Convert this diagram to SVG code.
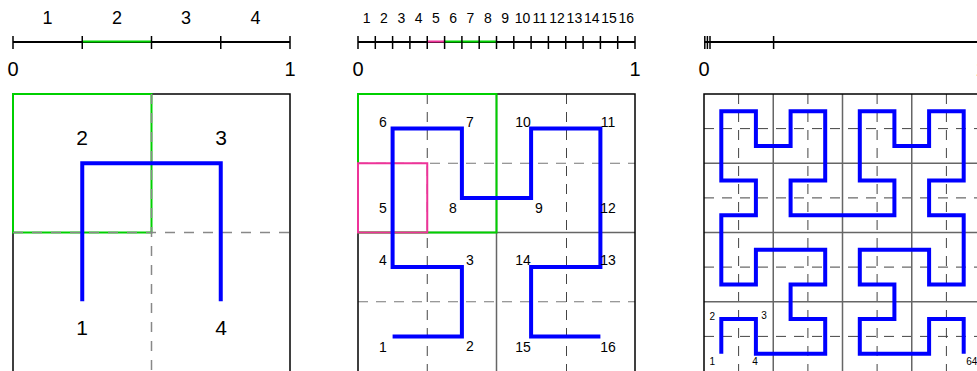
<svg xmlns="http://www.w3.org/2000/svg" width="977" height="371" viewBox="0 0 977 371">
<style>
text{font-family:"Liberation Sans",Arial,sans-serif;fill:#000;text-anchor:middle}
.axis{stroke:#000;stroke-width:2;fill:none}
.tick{stroke:#000;stroke-width:1.5}
.border{fill:none;stroke:#000;stroke-width:1.5}
.solid{stroke:#666;stroke-width:1.5}
.dash1{stroke:#888;stroke-width:1.5;stroke-dasharray:10,9}
.dash{stroke:#444;stroke-width:1;stroke-dasharray:10,8}
.green{fill:none;stroke:#00d000;stroke-width:2}
.pink{fill:none;stroke:#ee3399;stroke-width:2}
.curve{fill:none;stroke:#0000ff;stroke-width:4;stroke-linejoin:miter}
.big{font-size:21px}
.ax{font-size:20px}
.idx1{font-size:18px}
.idx2{font-size:14px}
.lab2{font-size:14px}
.lab3{font-size:10px}
</style>
<rect width="977" height="371" fill="#fff"/>

<g id="panel1">
  <g id="axis1">
    <line class="axis" x1="13" y1="42" x2="290" y2="42"/>
    <line x1="82.25" y1="41.5" x2="151.5" y2="41.5" class="green"/>
    <line class="tick" x1="13" y1="36" x2="13" y2="49"/>
    <line class="tick" x1="82.25" y1="36" x2="82.25" y2="49"/>
    <line class="tick" x1="151.5" y1="36" x2="151.5" y2="49"/>
    <line class="tick" x1="220.75" y1="36" x2="220.75" y2="49"/>
    <line class="tick" x1="290" y1="36" x2="290" y2="49"/>
    <text class="idx1" x="47.6" y="24">1</text>
    <text class="idx1" x="116.9" y="24">2</text>
    <text class="idx1" x="186.1" y="24">3</text>
    <text class="idx1" x="255.4" y="24">4</text>
    <text class="ax" x="13" y="76">0</text>
    <text class="ax" x="290" y="76">1</text>
  </g>
  <rect class="border" x="13" y="94" width="277" height="279"/>
  <rect class="green" x="13" y="94" width="138.5" height="138.5"/>
  <line class="dash1" x1="151.5" y1="94" x2="151.5" y2="371"/>
  <line class="dash1" x1="13" y1="232.5" x2="290" y2="232.5"/>
  <polyline class="curve" points="82.25,301.25 82.25,163.25 220.75,163.25 220.75,301.25"/>
  <text class="big" x="82" y="145">2</text>
  <text class="big" x="221" y="145">3</text>
  <text class="big" x="82" y="335">1</text>
  <text class="big" x="221" y="335">4</text>
</g>

<g id="panel2">
  <g id="axis2">
    <line class="axis" x1="358" y1="42" x2="635" y2="42"/>
    <line x1="444.6" y1="41.5" x2="496.5" y2="41.5" class="green"/>
    <line x1="427.25" y1="41.5" x2="444.6" y2="41.5" class="pink"/>
    <g class="tick">
      <line x1="358" y1="36" x2="358" y2="49"/>
      <line x1="375.3" y1="36" x2="375.3" y2="49"/>
      <line x1="392.6" y1="36" x2="392.6" y2="49"/>
      <line x1="409.9" y1="36" x2="409.9" y2="49"/>
      <line x1="427.25" y1="36" x2="427.25" y2="49"/>
      <line x1="444.6" y1="36" x2="444.6" y2="49"/>
      <line x1="461.9" y1="36" x2="461.9" y2="49"/>
      <line x1="479.2" y1="36" x2="479.2" y2="49"/>
      <line x1="496.5" y1="36" x2="496.5" y2="49"/>
      <line x1="513.8" y1="36" x2="513.8" y2="49"/>
      <line x1="531.1" y1="36" x2="531.1" y2="49"/>
      <line x1="548.4" y1="36" x2="548.4" y2="49"/>
      <line x1="565.75" y1="36" x2="565.75" y2="49"/>
      <line x1="583.1" y1="36" x2="583.1" y2="49"/>
      <line x1="600.4" y1="36" x2="600.4" y2="49"/>
      <line x1="617.7" y1="36" x2="617.7" y2="49"/>
      <line x1="635" y1="36" x2="635" y2="49"/>
    </g>
    <text class="idx2" x="366.7" y="23">1</text>
    <text class="idx2" x="384" y="23">2</text>
    <text class="idx2" x="401.3" y="23">3</text>
    <text class="idx2" x="418.6" y="23">4</text>
    <text class="idx2" x="435.9" y="23">5</text>
    <text class="idx2" x="453.2" y="23">6</text>
    <text class="idx2" x="470.5" y="23">7</text>
    <text class="idx2" x="487.8" y="23">8</text>
    <text class="idx2" x="505.2" y="23">9</text>
    <text class="idx2" x="522.5" y="23">10</text>
    <text class="idx2" x="539.8" y="23">11</text>
    <text class="idx2" x="557.1" y="23">12</text>
    <text class="idx2" x="574.4" y="23">13</text>
    <text class="idx2" x="591.7" y="23">14</text>
    <text class="idx2" x="609" y="23">15</text>
    <text class="idx2" x="626.3" y="23">16</text>
    <text class="ax" x="358" y="76">0</text>
    <text class="ax" x="635" y="76">1</text>
  </g>
  <line class="dash" x1="427.25" y1="94" x2="427.25" y2="371"/>
  <line class="dash" x1="566.5" y1="94" x2="566.5" y2="371"/>
  <line class="dash" x1="358" y1="163.25" x2="635" y2="163.25" style="stroke:#777"/>
  <line class="dash" x1="358" y1="301.75" x2="635" y2="301.75" style="stroke:#777"/>
  <line class="solid" x1="496.5" y1="94" x2="496.5" y2="371"/>
  <line class="solid" x1="358" y1="232.5" x2="635" y2="232.5"/>
  <rect class="border" x="358" y="94" width="277" height="279"/>
  <rect class="green" x="358" y="94" width="138.5" height="138.5"/>
  <rect class="pink" x="358" y="163.25" width="69.25" height="69.25"/>
  <polyline class="curve" points="392.6,336.4 461.9,336.4 461.9,267.1 392.6,267.1 392.6,197.9 392.6,128.6 461.9,128.6 461.9,197.9 531.1,197.9 531.1,128.6 600.4,128.6 600.4,197.9 600.4,267.1 531.1,267.1 531.1,336.4 600.4,336.4"/>
  <g>
    <text class="lab2" x="383" y="352">1</text>
    <text class="lab2" x="470" y="351">2</text>
    <text class="lab2" x="470" y="265">3</text>
    <text class="lab2" x="383" y="265">4</text>
    <text class="lab2" x="383" y="213">5</text>
    <text class="lab2" x="383" y="127">6</text>
    <text class="lab2" x="470" y="127">7</text>
    <text class="lab2" x="453" y="213">8</text>
    <text class="lab2" x="539" y="213">9</text>
    <text class="lab2" x="523" y="127">10</text>
    <text class="lab2" x="608" y="127">11</text>
    <text class="lab2" x="608" y="213">12</text>
    <text class="lab2" x="608" y="265">13</text>
    <text class="lab2" x="523" y="265">14</text>
    <text class="lab2" x="523" y="352">15</text>
    <text class="lab2" x="608" y="352">16</text>
  </g>
</g>

<g id="panel3">
  <g id="axis3">
    <line class="axis" x1="704.5" y1="42" x2="981" y2="42"/>
    <line class="tick" x1="704.8" y1="36" x2="704.8" y2="49"/>
    <line class="tick" x1="707.4" y1="36" x2="707.4" y2="49"/>
    <line class="tick" x1="710" y1="36" x2="710" y2="49"/>
    <line class="tick" x1="773.6" y1="36" x2="773.6" y2="49"/>
    <text class="ax" x="704" y="76">0</text>
    <text class="ax" x="981" y="76">1</text>
  </g>
  <g class="dash">
    <line x1="738.6" y1="94" x2="738.6" y2="371"/>
    <line x1="807.9" y1="94" x2="807.9" y2="371"/>
    <line x1="877.1" y1="94" x2="877.1" y2="371"/>
    <line x1="946.4" y1="94" x2="946.4" y2="371"/>
    <line x1="704" y1="128.6" x2="981" y2="128.6"/>
    <line x1="704" y1="197.9" x2="981" y2="197.9"/>
    <line x1="704" y1="267.1" x2="981" y2="267.1"/>
    <line x1="704" y1="336.4" x2="981" y2="336.4"/>
  </g>
  <g class="solid">
    <line x1="773.25" y1="94" x2="773.25" y2="371"/>
    <line x1="842.5" y1="94" x2="842.5" y2="371"/>
    <line x1="911.75" y1="94" x2="911.75" y2="371"/>
    <line x1="704" y1="163.25" x2="981" y2="163.25"/>
    <line x1="704" y1="232.5" x2="981" y2="232.5"/>
    <line x1="704" y1="301.75" x2="981" y2="301.75"/>
  </g>
  <rect class="border" x="704" y="94" width="277" height="279"/>
  <polyline class="curve" points="721.3,353.7 721.3,319.1 755.9,319.1 755.9,353.7 790.6,353.7 825.2,353.7 825.2,319.1 790.6,319.1 790.6,284.4 825.2,284.4 825.2,249.8 790.6,249.8 755.9,249.8 755.9,284.4 721.3,284.4 721.3,249.8 721.3,215.2 755.9,215.2 755.9,180.6 721.3,180.6 721.3,145.9 721.3,111.3 755.9,111.3 755.9,145.9 790.6,145.9 790.6,111.3 825.2,111.3 825.2,145.9 825.2,180.6 790.6,180.6 790.6,215.2 825.2,215.2 859.8,215.2 894.4,215.2 894.4,180.6 859.8,180.6 859.8,145.9 859.8,111.3 894.4,111.3 894.4,145.9 929.1,145.9 929.1,111.3 963.7,111.3 963.7,145.9 963.7,180.6 929.1,180.6 929.1,215.2 963.7,215.2 963.7,249.8 963.7,284.4 929.1,284.4 929.1,249.8 894.4,249.8 859.8,249.8 859.8,284.4 894.4,284.4 894.4,319.1 859.8,319.1 859.8,353.7 894.4,353.7 929.1,353.7 929.1,319.1 963.7,319.1 963.7,353.7"/>
  <text class="lab3" x="712.3" y="320">2</text>
  <text class="lab3" x="764" y="319">3</text>
  <text class="lab3" x="712.3" y="364.5">1</text>
  <text class="lab3" x="755" y="364.5">4</text>
  <text class="lab3" x="971.7" y="364.5">64</text>
</g>
</svg>
